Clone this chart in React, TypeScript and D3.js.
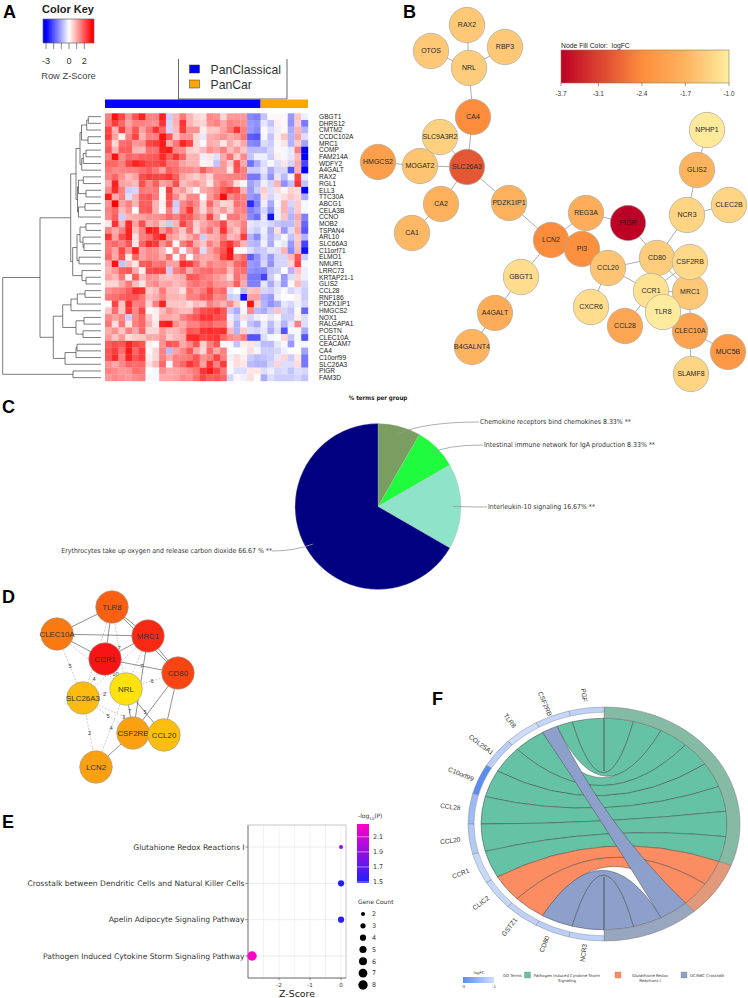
import * as d3 from "d3";

const SANS = "'Liberation Sans', Arial, sans-serif";

// A: heatmap
const heatGenes = ["GBGT1","DHRS12","CMTM2","CCDC102A","MRC1","COMP","FAM214A","WDFY2","A4GALT","RAX2","RGL1","ELL3","TTC30A","ABCG1","CELA3B","CCNO","MOB2","TSPAN4","ARL10","SLC66A3","C11orf71","ELMO1","NMUR1","LRRC73","KRTAP21-1","GLIS2","CCL28","RNF186","PDZK1IP1","HMGCS2","NOX1","RALGAPA1","POSTN","CLEC10A","CEACAM7","CA4","C10orf99","SLC26A3","PIGR","FAM3D"];
const heatRows = [
  [1.5,2.8,2.2,1.3,2.0,2.6,1.5,1.5,2.6,-.6,.9,1.6,.9,.5,.4,1.4,1.3,.5,1.2,1.2,1.2,-1.4,-1.5,-.7,.1,.1,.1,-1.2,.7,-.2],
  [1.6,2.3,1.8,1.1,1.5,1.5,1.4,1.3,2.4,-.5,.9,2.4,.9,.6,.5,1.3,1.5,1.0,1.5,1.4,1.3,-1.2,-1.3,-.3,-.7,.2,.1,-1.3,.6,-1.6],
  [2.2,.9,2.3,1.3,2.0,1.1,1.7,2.4,1.8,-.5,.8,2.3,1.3,1.3,.2,.7,.7,1.1,1.6,2.4,1.5,-1.2,-1.4,.1,-.4,-.2,.1,-1.0,.9,-.9],
  [2.3,1.1,.2,1.5,2.2,.9,1.5,1.5,2.8,2.0,.7,1.3,1.3,.5,-.3,1.0,1.1,1.3,1.0,1.2,1.6,-1.9,-2.0,-.1,-.7,.2,.7,-.9,1.1,-.4],
  [1.8,.5,1.7,1.8,1.2,1.3,2.2,2.3,2.7,1.0,1.6,2.6,2.2,.5,.1,1.0,.9,.3,1.0,.6,1.0,-1.4,-1.5,-.4,-.6,-.1,.3,-.9,.6,-1.1],
  [2.0,.9,1.9,1.9,.9,.8,1.7,1.7,2.6,2.7,1.4,1.3,.6,.5,.8,1.3,1.1,1.5,.8,1.2,.7,-.8,-.8,-.8,-.5,.1,-.1,-.3,1.5,-3],
  [1.5,2.8,1.4,1.8,1.7,1.9,1.9,2.0,2.5,1.9,2.4,1.8,.9,.9,-.2,.3,-.4,1.0,1.7,.6,1.4,-.7,-.2,-.2,-.6,.2,-.1,-.3,.8,-3],
  [1.8,1.8,1.5,2.2,2.6,2.4,2.1,2.1,2.3,1.6,1.6,1.1,.9,.9,.1,.2,-.7,1.2,.6,2.1,1.0,-1.7,-1.0,-.4,-.1,-.4,.3,-.5,1.0,-2.2],
  [1.6,1.4,1.5,1.5,1.5,1.7,1.9,1.6,1.1,1.9,1.7,1.4,1.4,1.2,1.9,1.4,1.2,1.2,.3,2.0,1.5,-.6,-.6,-.3,-1.0,-.5,-.5,-2.0,.9,-3],
  [1.5,1.8,1.3,.8,1.1,2.1,2.3,2.2,2.2,2.4,1.9,1.1,.8,.6,.9,.5,1.4,1.4,1.5,1.5,1.5,-1.6,-1.6,-.5,-1.3,-.3,-.8,-.1,2.2,-.3],
  [1.0,2.6,1.1,1.0,.8,2.1,1.4,1.9,1.1,1.3,2.1,.8,1.0,1.2,.9,.3,1.3,1.7,1.4,.4,.1,-1.1,-.8,-.2,-.5,.9,-1.3,-.7,2.4,-.7],
  [1.4,2.5,1.5,-.6,-.5,1.6,1.5,1.6,.1,2.3,1.0,1.2,.6,.1,1.0,1.2,1.5,2.0,2.3,2.1,.9,-1.2,-.6,.6,-.4,.4,.1,.5,.4,-3],
  [2.7,1.0,1.5,-.4,.9,1.9,2.0,1.6,.1,2.1,1.4,.7,1.4,1.4,.0,1.2,1.7,2.9,1.4,1.7,1.5,-1.2,-1.4,.4,-.5,-.2,.4,.7,.5,-1.0],
  [1.3,3.0,1.1,1.5,.9,1.9,1.9,.9,.2,2.0,-.6,1.4,1.8,1.4,.5,1.8,1.0,.5,.6,1.7,1.5,-2.5,-1.5,-.2,-1.0,-.1,.9,-.5,.6,-.1],
  [1.5,1.8,.8,1.3,.0,1.9,2.0,.9,.1,1.5,-.5,1.5,2.4,1.2,.5,1.3,.8,1.2,.6,1.4,1.5,-1.5,-1.2,-.5,-1.3,-.2,.9,-.7,.6,-.1],
  [1.4,1.9,-.6,.9,1.0,1.1,1.3,1.3,1.4,1.8,1.5,2.0,1.9,1.4,1.0,2.2,1.0,.1,1.6,1.6,1.2,-1.4,-1.7,-.3,-2.8,-.2,.7,-.9,1.0,-1.5],
  [.3,2.4,.9,2.5,1.1,2.1,1.0,1.2,.6,-.6,.9,2.2,1.6,.6,1.0,1.3,1.5,2.2,.9,1.1,1.5,-.3,-.4,-.3,-.5,-.7,-.8,-.8,.8,-1.8],
  [1.5,1.0,1.5,2.6,.8,1.5,2.7,2.5,1.2,1.8,1.2,.7,1.7,.5,1.2,1.7,1.0,2.4,1.1,.7,1.6,-.4,-.6,-.2,-1.0,.4,-1.2,-.4,1.0,-2.0],
  [2.4,1.1,2.1,2.6,.4,1.5,1.7,2.3,2.7,1.2,1.0,.6,1.0,1.4,-.6,.9,1.0,1.6,.8,1.0,2.3,-.9,-1.4,-.3,-.9,-.5,-.1,-.7,.6,-.9],
  [1.6,1.8,1.5,2.0,.3,1.8,2.5,2.3,1.3,1.8,.1,1.5,2.0,1.0,.7,1.5,1.1,2.0,2.4,1.7,.9,-.8,-.9,-.2,-1.0,-.1,-.3,-1.2,.7,-2.2],
  [1.6,1.1,2.2,1.3,2.6,1.1,1.4,1.3,.9,.0,1.4,-.1,1.1,1.6,-.4,1.1,1.6,2.0,2.8,.1,.1,-.4,-.7,-.6,-.3,-.4,.9,-1.4,.8,-2.8],
  [1.8,1.0,2.0,.2,1.8,1.1,1.4,1.4,1.0,1.7,-.1,1.5,.0,1.2,1.0,1.0,1.3,2.2,2.7,1.4,1.8,-1.9,-1.3,-.6,-1.2,-.5,-.5,.8,2.0,-.6],
  [1.0,2.8,-.7,.8,.3,1.9,2.0,1.6,1.7,1.1,1.1,2.5,2.3,1.7,1.0,1.5,1.3,1.4,1.1,1.8,2.0,-1.2,-1.3,-.5,-1.3,-.5,-.5,.5,2.2,-.1],
  [.9,1.2,1.9,2.0,1.0,.2,2.1,2.2,2.2,-.6,1.5,1.8,1.0,1.5,1.7,1.8,1.5,1.6,.8,1.6,1.7,-1.3,-1.4,-1.4,-.7,-.6,.0,-.9,.7,-.2],
  [1.1,.8,1.6,.2,1.9,.8,1.3,1.2,.8,.7,.9,1.0,2.0,1.9,1.6,1.5,1.2,1.0,.5,1.7,1.2,-1.6,-1.6,-2.2,-.6,-.1,-1.2,-.4,.5,-.2],
  [.5,.5,1.0,1.6,.8,.3,1.2,1.4,1.0,1.1,.8,1.0,1.5,1.7,1.5,1.7,1.3,1.2,1.1,1.9,1.0,-1.5,-1.5,-.3,-1.0,-.4,-1.2,.1,.8,-.5],
  [1.3,1.5,1.6,1.9,2.5,2.4,.6,.8,1.6,.8,.8,.4,1.6,1.3,1.6,2.2,1.6,1.8,-.3,.0,-.8,.7,.8,-.5,-.6,-.3,-.1,-.5,-.3,-.6],
  [1.6,1.7,1.9,2.0,2.0,1.6,.8,1.0,1.4,.9,.9,.8,1.5,1.5,1.9,2.0,1.4,1.5,-.6,-.5,-2.8,1.1,1.1,-1.0,-1.2,-.2,.0,.0,.2,-.6],
  [.0,2.2,.7,2.5,1.5,1.6,.5,1.5,2.6,.7,.7,.7,.4,.8,.7,1.5,1.2,.9,1.4,.6,.0,2.8,.6,-.9,-1.3,-1.0,-.3,-.5,-.2,-.5],
  [.7,1.7,.7,2.3,1.4,2.2,.1,.2,.8,1.3,1.0,.8,.8,1.7,2.1,2.2,2.4,2.0,-.6,-1.0,-.1,1.4,-.8,-1.0,-.6,.7,-.5,-.7,.1,-1.8],
  [1.4,1.1,1.4,-.6,1.4,1.8,.7,.2,1.0,1.0,.9,1.5,1.8,2.0,2.4,2.4,2.1,2.0,-.2,-.6,.4,-.5,-.2,.1,-.3,-.1,-.6,-.6,.2,-.4],
  [1.6,.4,1.6,.3,1.5,1.8,.9,.3,2.6,2.7,1.3,1.0,1.5,1.5,1.8,1.9,1.6,1.6,.3,-.9,-.1,-.7,-1.0,-.2,-.8,-.3,-.9,-.3,1.5,-.4],
  [1.0,1.3,.7,1.5,1.0,1.8,.5,.5,1.2,.8,.9,1.2,2.0,1.9,2.4,2.5,2.4,2.5,.8,-.9,.6,-.4,-.5,-.3,-1.0,-.4,-2.0,-.1,-.1,-1.0],
  [1.2,.7,1.2,.4,.6,.7,1.0,1.0,1.3,.6,.9,1.0,2.5,2.5,2.2,2.3,2.4,1.8,1.4,1.2,1.6,-2.0,-2.0,-.4,-.1,.0,.5,-.7,-.1,-2.0],
  [1.9,2.1,2.0,2.6,2.2,2.0,.2,.0,1.3,2.0,1.9,1.0,1.4,2.0,.6,1.5,2.0,.1,-.1,-.7,.2,.3,-.3,-.8,-.8,-.3,-.1,-1.2,.0,-.1],
  [2.0,2.3,1.7,2.7,1.8,2.3,.1,.5,1.5,-.8,1.1,1.4,2.0,1.0,.5,1.8,1.0,1.5,.0,.0,.1,.4,-.1,-.6,-.6,-.5,-.2,.0,.0,-1.1],
  [2.0,2.5,1.5,2.6,2.0,2.3,.2,.5,1.5,1.0,1.5,1.5,1.6,2.0,1.3,1.5,2.2,1.5,-.2,.4,.2,-.6,-.8,-.7,-.6,-.3,.5,-.6,.3,-1.6],
  [1.3,1.0,1.4,1.8,1.7,1.8,.4,.8,1.8,.1,1.5,1.8,2.4,2.0,1.1,2.4,1.5,2.3,.1,.4,.3,-.8,-.9,-.9,-.5,.5,-.4,-.4,.4,-1.6],
  [1.5,1.4,1.2,1.3,1.7,1.6,.0,-.1,1.3,1.0,1.1,1.2,1.4,1.6,2.4,2.7,2.2,1.6,.1,-.4,-.4,.3,.3,-.4,-.2,-.5,-.4,-.7,-.4,-.5],
  [1.2,1.4,1.3,1.2,1.4,1.5,-.1,-.1,1.0,1.0,1.1,1.4,1.3,1.7,2.2,1.9,2.0,1.8,-.5,.1,-.2,.4,.0,-1.0,-.4,-.6,-.6,-.6,-.5,-.7],
];
const keyTicks = [-3, -2, -1, 0, 1, 2];
const keyTickLabels = [-3, 0, 2];
const groupNames = ["PanClassical", "PanCar"];
const groupColumns = [23, 7];
const groupColors = ["#0000ff", "#ffa500"];

type TreeNode = { h: number; name?: string; children?: TreeNode[] };
const leaf = (name: string): TreeNode => ({ h: 0, name });
const join = (h: number, a: TreeNode | string, b: TreeNode | string): TreeNode => ({
  h,
  children: [a, b].map((c) => (typeof c === "string" ? leaf(c) : c)),
});
const treeTop = join(21,
  join(19.5, join(14.3, join(12.7, "GBGT1", "DHRS12"), "CMTM2"), join(13, "CCDC102A", "MRC1")),
  join(19.3, join(17.7, join(15, "COMP", "FAM214A"), "WDFY2"), "A4GALT"));
const treeMid = join(23.5,
  join(22.5, join(17.7, "RAX2", "RGL1"), join(15, "ELL3", "TTC30A")),
  join(22.5, join(16, "ABCG1", "CELA3B"), "CCNO"));
const treeLow = join(28.3,
  join(24,
    join(21, join(15, "MOB2", "TSPAN4"), join(18, "ARL10", join(17, "SLC66A3", "C11orf71"))),
    join(22, "ELMO1", "NMUR1")),
  join(19, "LRRC73", join(15, "KRTAP21-1", "GLIS2")));
const treeBottom = join(47.7,
  join(38.3,
    join(30, join(23.7, join(16, "CCL28", "RNF186"), "PDZK1IP1"), "HMGCS2"),
    join(25, join(17, "NOX1", "RALGAPA1"), join(18, "POSTN", "CLEC10A"))),
  join(36, join(25, join(24, "CEACAM7", "CA4"), "C10orf99"), "SLC26A3"));
const treeRoot = join(98.3,
  join(61, join(30.3, join(25, treeTop, treeMid), treeLow), treeBottom),
  join(28, "PIGR", "FAM3D"));

// B: network, layout
const bNames = ["RAX2","OTOS","RBP3","NRL","CA4","SLC9A3R2","SLC26A3","MOGAT2","HMGCS2","CA2","CA1","PDZK1IP1","REG3A","LCN2","PIGR","PI3","GBGT1","A4GALT","B4GALNT4","CCL20","CD80","NCR3","CLEC2B","GLIS2","NPHP1","MRC1","CSF2RB","CCR1","CXCR6","CCL28","CLEC10A","TLR8","MUC5B","SLAMF8"];
const bLayoutX = [467,431,505,469,473,440,467,420,378,441,412,509,586,551,628,582,521,495,472,608,657,687,729,697,707,690,690,651,591,625,690,663,728,691];
const bLayoutY = [25,51,47,68,117,137,167,166,162,204,233,203,213,240,223,249,277,313,347,268,258,215,205,170,130,292,262,291,307,326,331,312,352,374];
const bLogFC = [-1.45,-1.45,-1.45,-1.4,-2.4,-1.35,-2.9,-1.5,-2.1,-1.75,-1.65,-1.75,-1.8,-2.4,-3.7,-2.35,-1.2,-1.85,-1.7,-1.5,-1.4,-1.3,-1.3,-1.7,-1.05,-1.45,-1.25,-1.15,-1.2,-1.95,-2.0,-1.02,-2.2,-1.3];
const bEdges = [["RAX2","NRL"],["OTOS","NRL"],["RBP3","NRL"],["NRL","CA4"],["CA4","SLC26A3"],["SLC9A3R2","SLC26A3"],["SLC26A3","MOGAT2"],["MOGAT2","HMGCS2"],["SLC26A3","CA2"],["CA2","CA1"],["SLC26A3","PDZK1IP1"],["PDZK1IP1","LCN2"],["LCN2","REG3A"],["LCN2","PI3"],["LCN2","GBGT1"],["GBGT1","A4GALT"],["A4GALT","B4GALNT4"],["REG3A","PIGR"],["PIGR","CD80"],["PI3","CCL20"],["CCL20","CD80"],["CCL20","CCR1"],["CCL20","CXCR6"],["CD80","NCR3"],["NCR3","GLIS2"],["NCR3","CLEC2B"],["GLIS2","NPHP1"],["CD80","CSF2RB"],["CD80","MRC1"],["CD80","CCR1"],["CCR1","CSF2RB"],["CCR1","MRC1"],["CCR1","TLR8"],["CCR1","CCL28"],["TLR8","MRC1"],["TLR8","CLEC10A"],["MRC1","CLEC10A"],["CLEC10A","MUC5B"],["CLEC10A","SLAMF8"],["CSF2RB","MRC1"]];
const bLegendTicks = [-3.7, -3.1, -2.4, -1.7, -1.0];

// C: pie
const pieLabels = ["Chemokine receptors bind chemokines 8.33% **","Intestinal immune network for IgA production 8.33% **","Interleukin-10 signaling 16.67% **","Erythrocytes take up oxygen and release carbon dioxide 66.67 % **"];
const pieValues = [8.33, 8.33, 16.67, 66.67];
const pieColors = ["#7a9e62", "#1ffb3d", "#8fe3c8", "#000080"];

// D: network
const dNames = ["TLR8","CLEC10A","MRC1","CD80","SLC26A3","CSF2RB","CCL20","LCN2","CCR1","NRL"];
const dLayoutX = [112,57,148,178,83,133,164,96,105,126];
const dLayoutY = [607,634,636,673,698,733,735,767,659,689];
const dScore = [.72,.62,.92,.82,.28,.46,.26,.46,1,.02];
const dSolid = [["TLR8","CLEC10A"],["TLR8","CCR1"],["TLR8","MRC1"],["TLR8","CD80"],["CLEC10A","MRC1"],["CLEC10A","CCR1"],["CCR1","MRC1"],["CCR1","CD80"],["MRC1","CD80"],["MRC1","CSF2RB"],["CD80","CSF2RB"],["CD80","CCL20"],["NRL","CSF2RB"],["NRL","CCL20"],["LCN2","CSF2RB"]];
const dDashed = [["CLEC10A","SLC26A3"],["TLR8","SLC26A3"],["TLR8","NRL"],["CCR1","SLC26A3"],["SLC26A3","NRL"],["SLC26A3","LCN2"],["NRL","LCN2"],["SLC26A3","CSF2RB"],["SLC26A3","CCL20"],["NRL","CD80"],["CLEC10A","NRL"],["MRC1","SLC26A3"],["MRC1","NRL"],["CCR1","NRL"]];
const dWeights = [["CLEC10A","SLC26A3",5],["TLR8","NRL",7],["CCR1","SLC26A3",4],["SLC26A3","NRL",2],["SLC26A3","LCN2",2],["NRL","LCN2",4],["SLC26A3","CSF2RB",5],["SLC26A3","CCL20",3],["NRL","CD80",6],["CCR1","CD80",7],["CCR1","NRL",10],["NRL","CSF2RB",7],["NRL","CCL20",5]] as [string, string, number][];

// E: bubble plot
const ePathways = ["Glutahione Redox Reactions I","Crosstalk between Dendritic Cells and Natural Killer Cells","Apelin Adipocyte Signaling Pathway","Pathogen Induced Cytokine Storm Signaling Pathway"];
const eZScore = [0, 0, 0, -2.87];
const eLogP = [1.85, 1.5, 1.55, 2.2];
const eGenes = [2, 4, 4, 8];
const eColorTicks = [2.1, 1.9, 1.7, 1.5];
const eSizeTicks = [2, 3, 4, 5, 6, 7, 8];

// F: chord
const fGenes = ["PGF","CSF2RB","TLR8","COL25A1","C10orf99","CCL28","CCL20","CCR1","CLIC2","GSTZ1","CD80","NCR3"];
const fLogFC = [-1.3,-1.2,-1.05,-1.4,-3,-1.9,-1.5,-1.15,-1.2,-1.3,-1.4,-1.3];
const fTerms = ["Pathogen Induced Cytokine Storm Signaling", "Glutathione Redox Reactions I", "DC/NKC Crosstalk"];
const fTermColors = ["#66c2a5", "#fc8d62", "#8da0cb"];
const fTermRing = ["#85baa5", "#e0997a", "#98a6c0"];
const fLinkGene = ["PGF","CSF2RB","TLR8","COL25A1","C10orf99","CCL28","CCL20","CCR1","CLIC2","GSTZ1","CD80","NCR3","CSF2RB"];
const fLinkTerm = [0,0,0,0,0,0,0,0,1,1,2,2,2];

const heatColor = d3.scaleLinear<string>().domain([-3, 0, 3]).range(["#0000ff", "#ffffff", "#ff0000"]).clamp(true);
const bColor = d3.scaleLinear<string>().domain([-3.7, -2.4, -1.7, -1]).range(["#bd0026", "#fd8d3c", "#feb45f", "#ffeda0"]);
const dColor = d3.scaleLinear<string>().domain([0, .5, 1]).range(["#ffe40d", "#fb9a10", "#f81414"]);
const eColor = d3.scaleLinear<string>().domain([1.5, 2.2]).range(["#2020ff", "#ff00c8"]);
const eSize = d3.scaleSqrt().domain([2, 8]).range([2, 4.7]);
const fColor = d3.scaleLinear<string>().domain([-3, -1]).range(["#5b8def", "#d0defb"]);
const TAU = Math.PI * 2;
const rad = (deg: number) => (deg * Math.PI) / 180;

const PanelLetter = ({ t, x, y }: { t: string; x: number; y: number }) => (
  <text x={x} y={y} fontFamily={SANS} fontWeight={700} fontSize={18}>{t}</text>
);

const Heatmap = () => {
  const x = d3.scaleBand<number>().domain(d3.range(30)).range([105, 308]);
  const y = d3.scaleBand<string>().domain(heatGenes).range([113.3, 381]);
  const key = d3.scaleLinear().domain([-3.39, 3.26]).range([43, 94]);
  const treeX = d3.scaleLinear().domain([0, 98.3]).range([101, 2.7]);
  const root = d3.hierarchy<TreeNode>(treeRoot);
  const yPos = new Map<d3.HierarchyNode<TreeNode>, number>();
  root.eachAfter((n) => {
    if (n.children) yPos.set(n, d3.mean(n.children, (c) => yPos.get(c)!)!);
    else yPos.set(n, y(n.data.name!)! + y.bandwidth() / 2);
  });
  const barEnd = x(groupColumns[0])!;
  return (
    <g>
      <defs>
        <linearGradient id="keyGrad" x1="0" x2="1" y1="0" y2="0">
          {[-3.39, -3, 0, 3, 3.26].map((v) => (
            <stop key={v} offset={(key(v) - 43) / 51} stopColor={heatColor(v)} />
          ))}
        </linearGradient>
      </defs>
      <PanelLetter t="A" x={3} y={18} />
      <text x={42} y={13} fontFamily={SANS} fontWeight={700} fontSize={11} fill="#222">Color Key</text>
      <rect x={43} y={19} width={51} height={24} fill="url(#keyGrad)" stroke="#666" strokeWidth={0.7} />
      {keyTicks.map((t) => (
        <line key={t} x1={key(t)} x2={key(t)} y1={43} y2={49} stroke="#555" strokeWidth={0.7} />
      ))}
      {keyTickLabels.map((t) => (
        <text key={t} x={key(t)} y={63.5} textAnchor="middle" fontFamily={SANS} fontSize={9} fill="#333">{t}</text>
      ))}
      <text x={68.5} y={79} textAnchor="middle" fontFamily={SANS} fontSize={9.4} fill="#444">Row Z-Score</text>

      <path d="M178.5,59V99M287,59V99M178.5,99H287" fill="none" stroke="#444" strokeWidth={0.8} />
      {groupNames.map((name, i) => (
        <g key={name}>
          <rect x={189.5} y={65 + i * 15} width={10} height={8} fill={groupColors[i]} stroke="#333" strokeWidth={0.5} />
          <text x={210.5} y={74 + i * 15} fontFamily={SANS} fontSize={12.2} fill="#333">{name}</text>
        </g>
      ))}
      <rect x={105} y={99.5} width={barEnd - 105} height={8.5} fill={groupColors[0]} />
      <rect x={barEnd} y={99.5} width={308 - barEnd} height={8.5} fill={groupColors[1]} />

      {heatRows.map((row, r) =>
        row.map((v, c) => (
          <rect key={`${r}-${c}`} x={x(c)} y={y(heatGenes[r])} width={x.bandwidth() + 0.2} height={y.bandwidth() + 0.2} fill={heatColor(v)} />
        )),
      )}
      {heatGenes.map((g) => (
        <text key={g} x={319} y={y(g)! + y.bandwidth() / 2 + 2.3} fontFamily={SANS} fontSize={6.6} fill="#222">{g}</text>
      ))}
      {root.descendants().filter((n) => n.children).map((n, i) => {
        const [a, b] = n.children!;
        const px = treeX(n.data.h);
        return (
          <path
            key={i}
            d={`M${treeX(a.data.h)},${yPos.get(a)}H${px}V${yPos.get(b)}H${treeX(b.data.h)}`}
            fill="none"
            stroke="#444"
            strokeWidth={0.7}
          />
        );
      })}
    </g>
  );
};

const NetworkB = () => {
  const sx = d3.scaleIdentity();
  const sy = d3.scaleIdentity();
  const idx = new Map(bNames.map((n, i) => [n, i]));
  const legendX = d3.scaleLinear().domain([-3.7, -1]).range([561, 729]);
  const r = 17.7;
  return (
    <g>
      <defs>
        <linearGradient id="bGrad" x1="0" x2="1" y1="0" y2="0">
          {[-3.7, -2.4, -1.7, -1].map((v) => (
            <stop key={v} offset={(legendX(v) - 561) / 168} stopColor={bColor(v)} />
          ))}
        </linearGradient>
      </defs>
      <PanelLetter t="B" x={403} y={18} />
      {bEdges.map(([a, b]) => {
        const i = idx.get(a)!;
        const j = idx.get(b)!;
        return <line key={a + b} x1={sx(bLayoutX[i])} y1={sy(bLayoutY[i])} x2={sx(bLayoutX[j])} y2={sy(bLayoutY[j])} stroke="#999" strokeWidth={0.8} />;
      })}
      {bNames.map((n, i) => (
        <g key={n}>
          <circle cx={sx(bLayoutX[i])} cy={sy(bLayoutY[i])} r={r} fill={bColor(bLogFC[i])} stroke="#a9a9a0" strokeWidth={0.7} />
          <text x={sx(bLayoutX[i])} y={sy(bLayoutY[i]) + 2.4} textAnchor="middle" fontFamily={SANS} fontSize={7} fill={n === "PIGR" ? "#3a0010" : "#2a2a2a"}>{n}</text>
        </g>
      ))}
      <text x={561} y={48} fontFamily={SANS} fontSize={6.8} fill="#222" xmlSpace="preserve">Node Fill Color:  logFC</text>
      <rect x={561} y={50} width={168} height={33} fill="url(#bGrad)" stroke="#8a7f50" strokeWidth={0.6} />
      {bLegendTicks.map((t) => (
        <g key={t}>
          <line x1={legendX(t)} x2={legendX(t)} y1={83} y2={86} stroke="#555" strokeWidth={0.6} />
          <text x={legendX(t)} y={96} textAnchor="middle" fontFamily={SANS} fontSize={6.4} fill="#333">{t.toFixed(1)}</text>
        </g>
      ))}
    </g>
  );
};

const Pie = () => {
  const cx = 378;
  const cy = 506.5;
  const R = 83;
  const arcs = d3.pie<number>().sort(null).startAngle(0).endAngle(TAU)(pieValues);
  const arc = d3.arc<d3.PieArcDatum<number>>().innerRadius(0).outerRadius(R);
  const anchor = d3.arc<d3.PieArcDatum<number>>().innerRadius(75).outerRadius(75);
  const labelX = [479, 483, 487, 272];
  const labelY = [422, 445, 507, 551];
  const bendX = [424, 446, 470, 295];
  return (
    <g fontFamily="'DejaVu Sans Condensed', 'DejaVu Sans', sans-serif">
      <PanelLetter t="C" x={2} y={413} />
      <text x={cx} y={400} textAnchor="middle" fontSize={6.2} fontWeight={700} fill="#222">% terms per group</text>
      <g transform={`translate(${cx},${cy})`}>
        {arcs.map((a, i) => (
          <path key={i} d={arc(a)!} fill={pieColors[i]} stroke="#bbb" strokeWidth={0.3} />
        ))}
      </g>
      {arcs.map((a, i) => {
        const [ax, ay] = anchor.centroid(a);
        return (
          <path
            key={i}
            d={`M${cx + ax},${cy + ay}Q${bendX[i]},${labelY[i]} ${labelX[i]},${labelY[i]}`}
            fill="none"
            stroke="#999"
            strokeWidth={0.8}
          />
        );
      })}
      {pieLabels.map((t, i) => (
        <text key={t} x={i === 3 ? labelX[i] : labelX[i] + 1} y={labelY[i] + 2.2} textAnchor={i === 3 ? "end" : "start"} fontSize={6.9} fill="#333">{t}</text>
      ))}
    </g>
  );
};

const NetworkD = () => {
  const pos = new Map(dNames.map((n, i) => [n, [dLayoutX[i], dLayoutY[i]]]));
  const r = 16.3;
  return (
    <g>
      <PanelLetter t="D" x={2} y={603} />
      {dDashed.map(([a, b]) => (
        <line key={a + b} x1={pos.get(a)![0]} y1={pos.get(a)![1]} x2={pos.get(b)![0]} y2={pos.get(b)![1]} stroke="#aaa" strokeWidth={0.6} strokeDasharray="2,1.4" />
      ))}
      {dSolid.map(([a, b]) => (
        <line key={a + b} x1={pos.get(a)![0]} y1={pos.get(a)![1]} x2={pos.get(b)![0]} y2={pos.get(b)![1]} stroke="#444" strokeWidth={0.6} />
      ))}
      {dWeights.map(([a, b, w]) => (
        <text key={a + b} x={(pos.get(a)![0] + pos.get(b)![0]) / 2} y={(pos.get(a)![1] + pos.get(b)![1]) / 2 + 2} textAnchor="middle" fontFamily={SANS} fontSize={5.8} fill="#444">{w}</text>
      ))}
      {dNames.map((n, i) => (
        <g key={n}>
          <circle cx={dLayoutX[i]} cy={dLayoutY[i]} r={r} fill={dColor(dScore[i])} stroke="#999" strokeWidth={0.6} />
          <text x={dLayoutX[i]} y={dLayoutY[i] + 2.7} textAnchor="middle" fontFamily={SANS} fontSize={7.9} fill="#333">{n}</text>
        </g>
      ))}
    </g>
  );
};

const Bubble = () => {
  const x = d3.scaleLinear().domain([-3, 0.16]).range([248, 346]);
  const y = d3.scalePoint<string>().domain(ePathways).range([847, 956]);
  const barY = d3.scaleLinear().domain([1.5, 2.27]).range([882, 824]);
  const legendY = d3.scalePoint<number>().domain(eSizeTicks).range([914, 985]);
  const font = "'DejaVu Sans', sans-serif";
  return (
    <g fontFamily={font}>
      <defs>
        <linearGradient id="eGrad" x1="0" x2="0" y1="1" y2="0">
          <stop offset="0" stopColor="#2020ff" />
          <stop offset="1" stopColor="#ff00c8" />
        </linearGradient>
      </defs>
      <PanelLetter t="E" x={2} y={828} />
      {x.ticks(7).map((t) => (
        <line key={t} x1={x(t)} x2={x(t)} y1={825} y2={978} stroke="#ececec" strokeWidth={0.7} />
      ))}
      {ePathways.map((p) => (
        <line key={p} x1={248} x2={346} y1={y(p)} y2={y(p)} stroke="#ececec" strokeWidth={1} />
      ))}
      <rect x={248} y={825} width={98} height={153} fill="none" stroke="#bbb" strokeWidth={0.8} />
      <line x1={248} x2={248} y1={825} y2={978} stroke="#aaa" strokeWidth={1.6} />
      <line x1={248} x2={346} y1={978} y2={978} stroke="#666" strokeWidth={0.8} />
      {ePathways.map((p, i) => (
        <g key={p}>
          <line x1={245.5} x2={247.5} y1={y(p)} y2={y(p)} stroke="#444" strokeWidth={0.7} />
          <text x={244.5} y={y(p)! + 2.5} textAnchor="end" fontSize={7.6} fill="#333">{p}</text>
          <circle cx={x(eZScore[i])} cy={y(p)} r={eSize(eGenes[i])} fill={eColor(eLogP[i])} />
        </g>
      ))}
      {[-2, -1, 0].map((t) => (
        <g key={t}>
          <line x1={x(t)} x2={x(t)} y1={978} y2={980} stroke="#444" strokeWidth={0.6} />
          <text x={x(t)} y={987} textAnchor="middle" fontSize={5.6} fill="#333">{t}</text>
        </g>
      ))}
      <text x={297} y={997} textAnchor="middle" fontSize={9.4} fill="#222">Z-Score</text>
      <text x={358} y={818} fontSize={6} fill="#333">-log<tspan fontSize={3.8} dy={1.5}>10</tspan><tspan dy={-1.5}>(P)</tspan></text>
      <rect x={357} y={824} width={12} height={59} fill="url(#eGrad)" />
      {eColorTicks.map((t) => (
        <g key={t}>
          <line x1={357} x2={369} y1={barY(t)} y2={barY(t)} stroke="#fff" strokeWidth={0.5} />
          <text x={373} y={barY(t) + 2.2} fontSize={6.4} fill="#333">{t}</text>
        </g>
      ))}
      <text x={358} y={904} fontSize={6} fill="#333">Gene Count</text>
      {eSizeTicks.map((t) => (
        <g key={t}>
          <circle cx={363} cy={legendY(t)} r={eSize(t)} fill="#000" />
          <text x={372} y={legendY(t)! + 2.2} fontSize={6.4} fill="#333">{t}</text>
        </g>
      ))}
    </g>
  );
};

const Chord = () => {
  const cx = 604;
  const cy = 824;
  const OUTER = 136;
  const INNER = 123;
  const squash = 117 / 136;
  const geneStep = 180 / fGenes.length;
  const termStep = 180 / fLinkTerm.length;
  const arc = d3.arc();
  const ribbon = d3.ribbon<any, any>();

  const used = new Map<string, number>();
  const termUsed = [0, 0, 0];
  const termStart = [0, 1, 2].map((t) => fLinkTerm.filter((v) => v < t).length * termStep);
  const links = fLinkTerm.map((t, i) => ({ i, t, gene: fLinkGene[i] }));
  // ribbons leave the term side in gene order inside each term
  const geneOrder = [...links].sort((a, b) => a.t - b.t || fGenes.indexOf(a.gene) - fGenes.indexOf(b.gene));
  const ribbons = geneOrder.map((l) => {
    const g = fGenes.indexOf(l.gene);
    const count = fLinkGene.filter((v) => v === l.gene).length;
    const k = used.get(l.gene) ?? 0;
    used.set(l.gene, k + 1);
    const a0 = g * geneStep + (k * geneStep) / count;
    const a1 = a0 + geneStep / count;
    const t0 = termStart[l.t] + termUsed[l.t] * termStep;
    termUsed[l.t] += 1;
    return {
      key: `${l.gene}-${l.t}`,
      t: l.t,
      long: count > 1 && l.t === 2,
      d: ribbon({
        source: { startAngle: rad(-a1), endAngle: rad(-a0), radius: INNER },
        target: { startAngle: rad(t0), endAngle: rad(t0 + termStep), radius: INNER },
      }) as unknown as string,
    };
  });
  ribbons.sort((a, b) => Number(a.long) - Number(b.long));

  const legendLogFC = d3.scaleLinear().domain([-3, -1]).range([463, 494]);
  return (
    <g>
      <defs>
        <linearGradient id="fGrad" x1="0" x2="1" y1="0" y2="0">
          <stop offset="0" stopColor={fColor(-3)} />
          <stop offset="1" stopColor={fColor(-1)} />
        </linearGradient>
      </defs>
      <PanelLetter t="F" x={432} y={705} />
      <g transform={`translate(${cx},${cy}) scale(1,${squash})`}>
        {ribbons.map((r) => (
          <path key={r.key} d={r.d} fill={fTermColors[r.t]} stroke="#444" strokeWidth={0.5} />
        ))}
        {fTerms.map((_, t) => (
          <path
            key={t}
            d={arc({
              innerRadius: INNER,
              outerRadius: OUTER,
              startAngle: rad(termStart[t]),
              endAngle: rad(termStart[t] + fLinkTerm.filter((v) => v === t).length * termStep),
            })!}
            fill={fTermRing[t]}
            stroke="#777"
            strokeWidth={0.5}
          />
        ))}
        {fGenes.map((g, i) => (
          <path
            key={g}
            d={arc({
              innerRadius: 130,
              outerRadius: OUTER,
              startAngle: rad(-(i + 1) * geneStep),
              endAngle: rad(-i * geneStep),
            })!}
            fill={fColor(fLogFC[i])}
            stroke="#888"
            strokeWidth={0.5}
          />
        ))}
      </g>
      {fGenes.map((g, i) => {
        const a = (i + 0.5) * geneStep;
        const px = cx - 155 * Math.sin(rad(a));
        const py = cy - 130 * Math.cos(rad(a));
        return (
          <text key={g} transform={`translate(${px},${py}) rotate(${90 - a})`} textAnchor="middle" dy={2} fontFamily={SANS} fontSize={6.6} fill="#333">{g}</text>
        );
      })}
      <g fontFamily="'DejaVu Sans', sans-serif" fontSize={3.9} fill="#333">
        <text x={479} y={974} textAnchor="middle">logFC</text>
        <rect x={463} y={977} width={31} height={6} fill="url(#fGrad)" />
        <text x={legendLogFC(-3)} y={988} textAnchor="middle">-3</text>
        <text x={legendLogFC(-1)} y={988} textAnchor="middle">-1</text>
        <text x={503} y={977}>GO Terms</text>
        <rect x={524.5} y={972} width={6} height={6} fill={fTermColors[0]} stroke="#777" strokeWidth={0.3} />
        <text x={567} y={977} textAnchor="middle">Pathogen Induced Cytokine Storm</text>
        <text x={567} y={982} textAnchor="middle">Signaling</text>
        <rect x={615} y={972} width={6} height={6} fill={fTermColors[1]} stroke="#777" strokeWidth={0.3} />
        <text x={650} y={977} textAnchor="middle">Glutathione Redox</text>
        <text x={650} y={982} textAnchor="middle">Reactions I</text>
        <rect x={681} y={972} width={6} height={6} fill={fTermColors[2]} stroke="#777" strokeWidth={0.3} />
        <text x={690} y={977}>{fTerms[2]}</text>
      </g>
    </g>
  );
};

export default function App() {
  return (
    <svg width={748} height={998} viewBox="0 0 748 998" style={{ position: "absolute", left: 0, top: 0, display: "block", background: "#fff" }}>
      <Heatmap />
      <NetworkB />
      <Pie />
      <NetworkD />
      <Bubble />
      <Chord />
    </svg>
  );
}
